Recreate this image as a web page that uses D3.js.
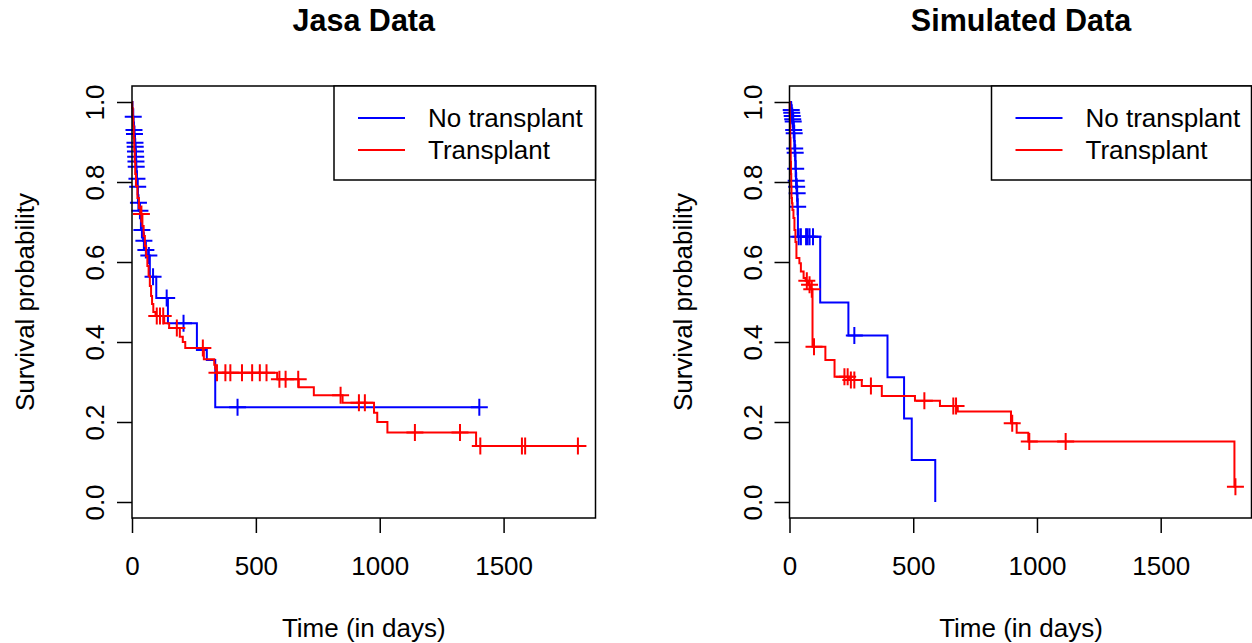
<!DOCTYPE html>
<html>
<head>
<meta charset="utf-8">
<script src="https://cdn.jsdelivr.net/npm/d3@7"></script>
<style>
  html, body { margin: 0; padding: 0; background: #fff; }
  svg { display: block; font-family: "Liberation Sans", Arial, Helvetica, sans-serif; }
</style>
</head>
<body>
<svg id="chart" width="1252" height="643"></svg>
<script>
// ---------------- Data ----------------
const panelTitles = ["Jasa Data", "Simulated Data"];
const seriesNames = ["No transplant", "Transplant"];
const seriesColors = ["#0000ff", "#ff0000"];
const xTicks = [0, 500, 1000, 1500];
const yTicks = [0, 0.2, 0.4, 0.6, 0.8, 1.0];
const xLabel = "Time (in days)";
const yLabel = "Survival probability";

// Jasa data – No transplant: event times and survival after each drop, censor times
const jasaNoTxTimes = [2, 6, 9, 11, 12.5, 13.5, 14.5, 15.5, 16.5, 18, 21, 24, 28, 36, 45, 52, 60, 72, 98, 145, 262, 302, 336];
const jasaNoTxSurv  = [0.963, 0.93, 0.92, 0.898, 0.888, 0.876, 0.863, 0.851, 0.838, 0.808, 0.788, 0.748, 0.728, 0.68, 0.653, 0.63, 0.616, 0.563, 0.51, 0.447, 0.38, 0.355, 0.237];
const jasaNoTxCens  = [5, 8, 10, 12, 13, 14, 15, 16, 17, 20, 23, 26, 32, 40, 48, 56, 68, 85, 140, 208, 426, 1402];

// Jasa data – Transplant
const jasaTxTimes = [1, 3, 5, 7, 9, 11, 13, 16, 22, 28, 34, 42, 47, 52, 57, 62, 67, 72, 77, 81, 86, 95, 130, 150, 193, 205, 215, 290, 332, 336, 340, 586, 673, 734, 850, 977, 990, 1031, 1389];
const jasaTxSurv  = [0.985, 0.96, 0.94, 0.91, 0.88, 0.85, 0.82, 0.79, 0.76, 0.735, 0.72, 0.69, 0.665, 0.64, 0.615, 0.59, 0.565, 0.54, 0.515, 0.495, 0.475, 0.465, 0.447, 0.435, 0.413, 0.40, 0.385, 0.357, 0.343, 0.334, 0.323, 0.307, 0.287, 0.267, 0.248, 0.223, 0.20, 0.174, 0.14];
const jasaTxCens  = [38, 100, 113, 126, 181, 286, 343, 377, 397, 444, 485, 516, 543, 595, 620, 671, 842, 916, 940, 1142, 1324, 1406, 1574, 1587, 1800];

// Simulated data – No transplant
const simNoTxTimes = [6, 8, 10, 12, 14, 16, 18, 20, 22, 24, 26, 28, 30, 32, 34, 124, 238, 396, 463, 494, 589];
const simNoTxSurv  = [0.98, 0.973, 0.965, 0.957, 0.951, 0.93, 0.922, 0.884, 0.873, 0.833, 0.803, 0.788, 0.772, 0.738, 0.663, 0.499, 0.416, 0.312, 0.209, 0.105, 0.0];
const simNoTxCens  = [7, 9, 11, 13, 15, 17, 19, 21, 23, 25, 27, 29, 31, 33, 37, 46, 67, 73, 81, 95, 262];

// Simulated data – Transplant
const simTxTimes = [1, 2, 3, 4, 5, 6, 7, 8, 10, 12, 16, 20, 24, 28, 40, 46, 57, 65, 75, 85, 93, 145, 182, 240, 292, 373, 507, 608, 680, 895, 918, 965, 1798];
const simTxSurv  = [0.97, 0.94, 0.91, 0.88, 0.85, 0.82, 0.79, 0.76, 0.747, 0.73, 0.71, 0.68, 0.65, 0.61, 0.597, 0.576, 0.56, 0.553, 0.543, 0.532, 0.388, 0.355, 0.313, 0.305, 0.29, 0.265, 0.253, 0.24, 0.226, 0.197, 0.173, 0.151, 0.038];
const simTxCens  = [70, 81, 90, 99, 222, 235, 248, 262, 329, 545, 662, 673, 900, 969, 1116, 1802];

const xMax = 1871;

// ---------------- Layout ----------------
const svg = d3.select("#chart");
const fontSize = 26;
const panels = [
  { x0: 132, x1: 595.5, series: [
      { times: jasaNoTxTimes, surv: jasaNoTxSurv, cens: jasaNoTxCens },
      { times: jasaTxTimes, surv: jasaTxSurv, cens: jasaTxCens } ] },
  { x0: 789.5, x1: 1252.5, series: [
      { times: simNoTxTimes, surv: simNoTxSurv, cens: simNoTxCens },
      { times: simTxTimes, surv: simTxSurv, cens: simTxCens } ] }
];
const yTop = 86, yBot = 518;
const y = d3.scaleLinear().domain([-0.04, 1.04]).range([yBot, yTop]);

function survAt(times, surv, t) {
  let s = 1;
  for (let i = 0; i < times.length; i++) { if (times[i] <= t) s = surv[i]; }
  return s;
}

panels.forEach((p, pi) => {
  const x = d3.scaleLinear().domain([0, xMax]).range([p.x0, p.x1]);
  const g = svg.append("g");
  const cx = (p.x0 + p.x1) / 2;

  // Title
  g.append("text").attr("x", cx).attr("y", 31).attr("text-anchor", "middle")
    .attr("font-size", 30.5).attr("font-weight", "bold").text(panelTitles[pi]);

  // Curves
  const line = d3.line().x(d => x(d[0])).y(d => y(d[1])).curve(d3.curveStepAfter);
  p.series.forEach((s, si) => {
    const pts = [[0, 1]];
    s.times.forEach((t, i) => pts.push([t, s.surv[i]]));
    const tEnd = Math.max(d3.max(s.times), d3.max(s.cens));
    if (tEnd > d3.max(s.times)) pts.push([tEnd, s.surv[s.surv.length - 1]]);
    g.append("path").attr("d", line(pts)).attr("fill", "none")
      .attr("stroke", seriesColors[si]).attr("stroke-width", 2);
    // censoring marks
    const m = 8.5;
    g.append("g").selectAll("path").data(s.cens).join("path")
      .attr("d", t => {
        const px = x(t), py = y(survAt(s.times, s.surv, t));
        return `M${px - m},${py}H${px + m}M${px},${py - m}V${py + m}`;
      })
      .attr("stroke", seriesColors[si]).attr("stroke-width", 2).attr("fill", "none");
  });

  // Box
  g.append("rect").attr("x", p.x0).attr("y", yTop)
    .attr("width", Math.min(p.x1, 1251.5) - p.x0).attr("height", yBot - yTop)
    .attr("fill", "none").attr("stroke", "#000").attr("stroke-width", 1.5);

  // X axis
  const xa = g.append("g").attr("transform", `translate(0,${yBot})`)
    .call(d3.axisBottom(x).tickValues(xTicks).tickFormat(d3.format("d")).tickSize(15).tickSizeOuter(0).tickPadding(0));
  xa.select(".domain").remove();
  xa.selectAll("line").attr("stroke", "#000").attr("stroke-width", 1.5);
  xa.selectAll("text").attr("font-size", fontSize).attr("font-family", null).attr("fill", "#000")
    .attr("dy", null).attr("y", 57);

  // Y axis
  const ya = g.append("g").attr("transform", `translate(${p.x0},0)`)
    .call(d3.axisLeft(y).tickValues(yTicks).tickFormat(d3.format(".1f")).tickSize(15).tickSizeOuter(0));
  ya.select(".domain").remove();
  ya.selectAll("line").attr("stroke", "#000").attr("stroke-width", 1.5);
  ya.selectAll("text").attr("font-size", fontSize).attr("font-family", null).attr("fill", "#000")
    .attr("x", null).attr("dy", null).attr("text-anchor", "middle")
    .attr("transform", "translate(-28,0) rotate(-90)");

  // Axis titles
  g.append("text").attr("x", cx).attr("y", 637).attr("text-anchor", "middle")
    .attr("font-size", fontSize).text(xLabel);
  g.append("text").attr("transform", `translate(${p.x0 - 98},${(yTop + yBot) / 2}) rotate(-90)`)
    .attr("text-anchor", "middle").attr("font-size", fontSize).text(yLabel);

  // Legend
  const lx = p.x0 + 202, ly = yTop;
  const lg = g.append("g");
  lg.append("rect").attr("x", lx).attr("y", ly).attr("width", Math.min(p.x1, 1251.5) - lx).attr("height", 94)
    .attr("fill", "#fff").attr("stroke", "#000").attr("stroke-width", 1.5);
  seriesNames.forEach((name, i) => {
    const yy = ly + 32 + i * 32;
    lg.append("line").attr("x1", lx + 24).attr("x2", lx + 71).attr("y1", yy).attr("y2", yy)
      .attr("stroke", seriesColors[i]).attr("stroke-width", 2);
    lg.append("text").attr("x", lx + 94).attr("y", yy + 9).attr("font-size", fontSize).text(name);
  });
});
</script>
</body>
</html>
